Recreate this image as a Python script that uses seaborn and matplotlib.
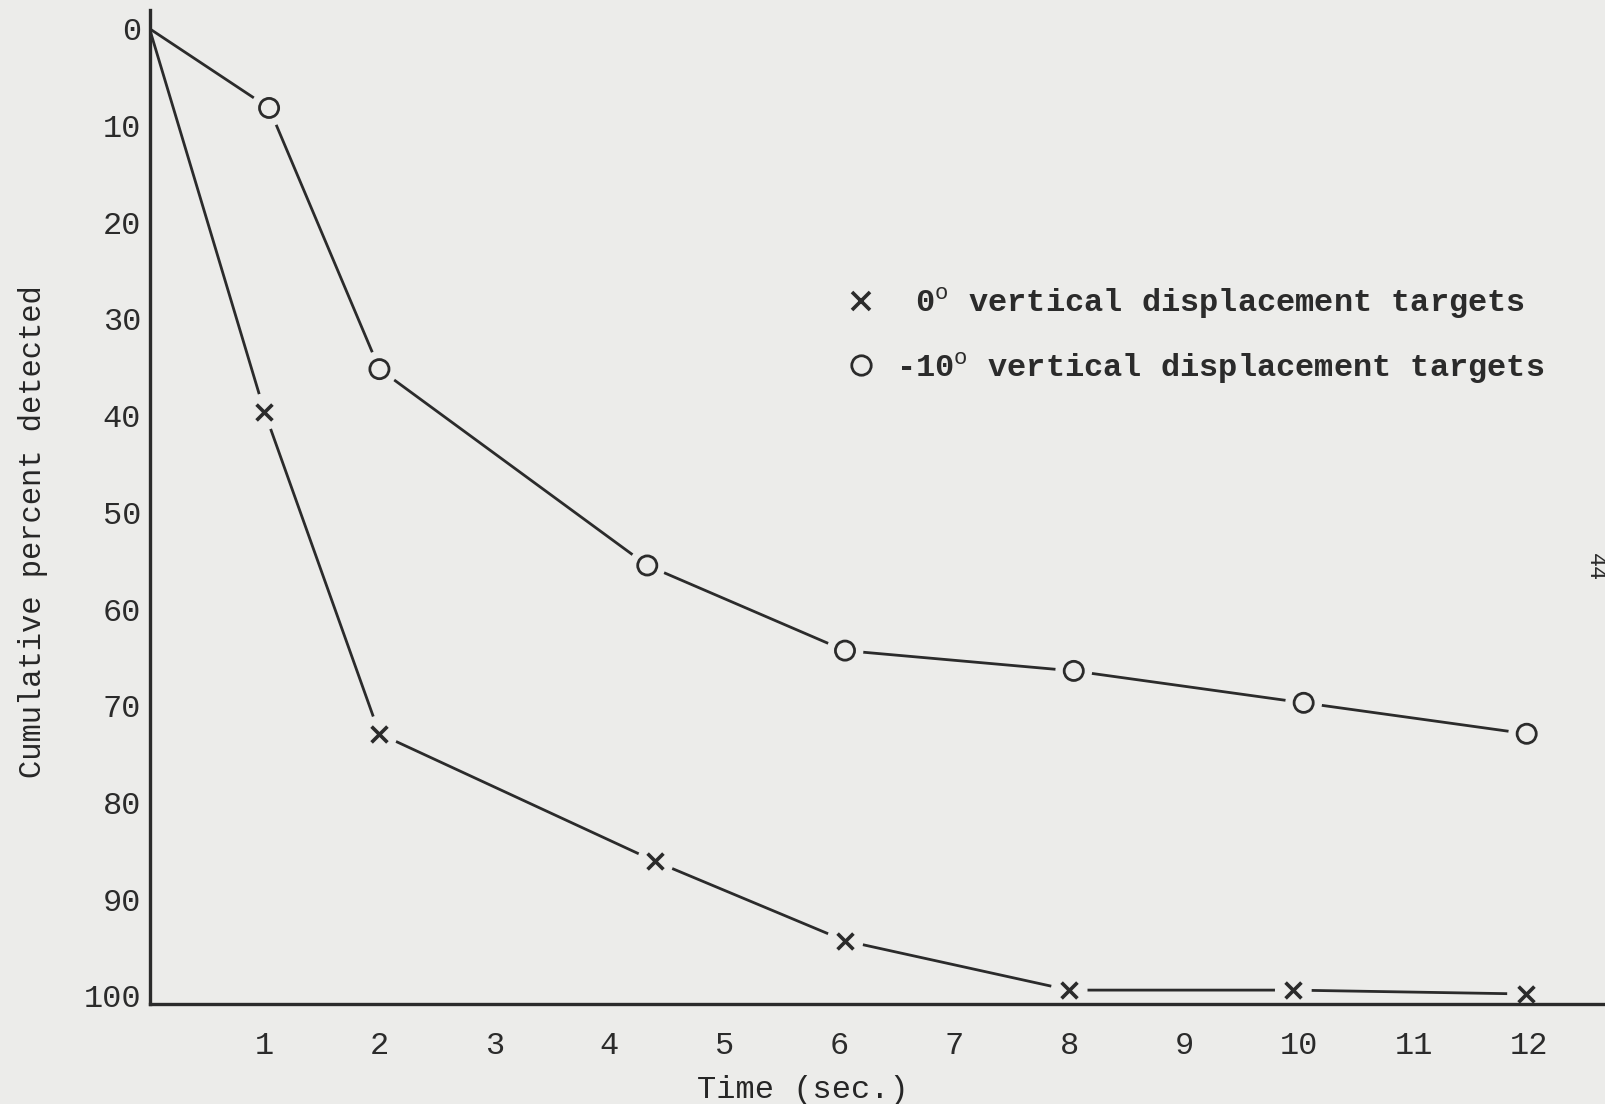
import numpy as np
import pandas as pd
import matplotlib
matplotlib.use("Agg")
import matplotlib.pyplot as plt
import seaborn as sns
from matplotlib.lines import Line2D

# values (time in sec., cumulative percent detected)
time_0deg = [0, 1.0, 2.0, 4.4, 6.05, 8.0, 9.95, 11.97]
pct_0deg = [0, 39.6, 72.9, 86.1, 94.3, 99.4, 99.4, 99.8]
time_m10deg = [0, 1.04, 2.0, 4.33, 6.05, 8.04, 10.04, 11.98]
pct_m10deg = [0, 8.2, 35.2, 55.5, 64.3, 66.4, 69.7, 72.9]

x_ticks = list(range(1, 13))
y_ticks = list(range(0, 101, 10))
legend_labels = [" 0$^{\\mathrm{o}}$ vertical displacement targets",
                 "-10$^{\\mathrm{o}}$ vertical displacement targets"]

paper = "#ececea"
ink = "#2b2b2b"
fs = 23

sns.set_theme(style="white")
plt.rcParams["font.family"] = ["Liberation Mono", "DejaVu Sans Mono"]
plt.rcParams["mathtext.fontset"] = "custom"
plt.rcParams["mathtext.rm"] = "Liberation Mono"
plt.rcParams["mathtext.bf"] = "Liberation Mono:bold"
plt.rcParams["text.color"] = ink

df0 = pd.DataFrame({"t": time_0deg, "p": pct_0deg})
df10 = pd.DataFrame({"t": time_m10deg, "p": pct_m10deg})

fig = plt.figure(figsize=(16.06, 11.04), dpi=100, facecolor=paper)
ax = fig.add_axes([0.0931, 0.0909, 0.9069, 0.8998])
ax.set_facecolor(paper)

for df, mk, ms, mew in [(df0, "x", 130, 2.6), (df10, "o", 190, 2.0)]:
    sns.lineplot(data=df, x="t", y="p", ax=ax, color=ink, lw=2.0,
                 sort=False, zorder=2)
    pts = df.iloc[1:]
    # paper-coloured halo so the line stops short of the typed mark
    sns.scatterplot(data=pts, x="t", y="p", ax=ax, s=700, color=paper,
                    edgecolor="none", zorder=3)
    if mk == "o":
        sns.scatterplot(data=pts, x="t", y="p", ax=ax, s=ms, marker="o",
                        facecolor="none", edgecolor=ink, linewidth=mew, zorder=4)
    else:
        sns.scatterplot(data=pts, x="t", y="p", ax=ax, s=ms, marker="x",
                        color=ink, linewidth=mew, zorder=4)

ax.set_xlim(0, 12.67)
ax.set_ylim(100.8, -1.9)
ax.set_xticks(x_ticks)
ax.set_yticks(y_ticks)
ax.tick_params(axis="both", length=0, labelsize=fs, colors=ink)
ax.tick_params(axis="x", pad=20)
ax.tick_params(axis="y", pad=6)

for side in ["top", "right"]:
    ax.spines[side].set_visible(False)
for side in ["left", "bottom"]:
    ax.spines[side].set_color(ink)
    ax.spines[side].set_linewidth(2.4)
    ax.spines[side].set_zorder(5)

ax.set_xlabel("Time (sec.)", fontsize=fs)
ax.set_ylabel("Cumulative percent detected", fontsize=22)
ax.xaxis.set_label_coords(0.4487, -0.072)
ax.yaxis.set_label_coords(-0.0695, 0.475)

handles = [Line2D([], [], ls="none", marker="x", ms=13, mew=2.6, color=ink),
           Line2D([], [], ls="none", marker="o", ms=14, mew=2.0,
                  mfc="none", mec=ink)]
ax.legend(handles, legend_labels, frameon=False,
          loc="upper left", bbox_to_anchor=(0.462, 0.752),
          handlelength=0.6, handletextpad=0.8, labelspacing=0.9,
          prop={"weight": "bold", "size": fs})

fig.text(0.9935, 0.486, "44", rotation=-90, fontsize=17, color=ink,
         ha="center", va="center")

fig.savefig("out.png", dpi=100, facecolor=paper)
